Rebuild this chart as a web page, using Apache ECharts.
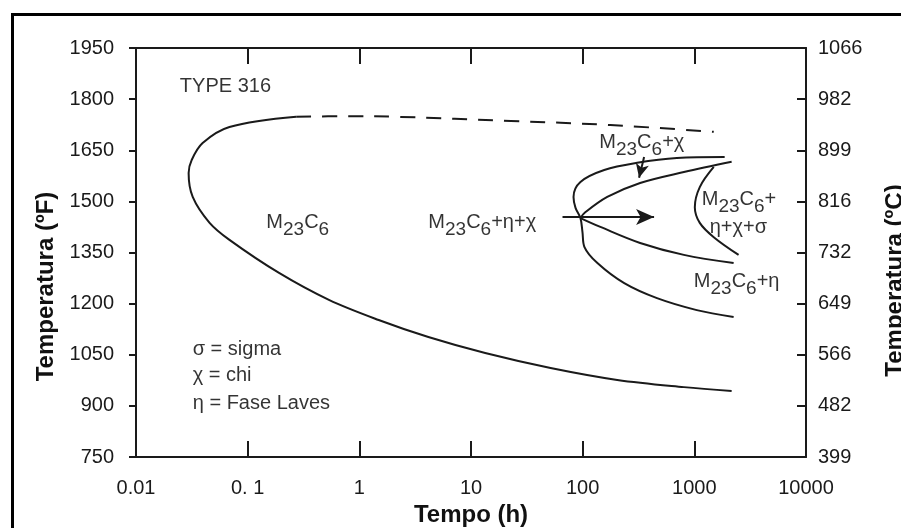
<!DOCTYPE html>
<html>
<head>
<meta charset="utf-8">
<script src="https://cdn.jsdelivr.net/npm/echarts@6/dist/echarts.min.js"></script>
<style>
  html, body { margin: 0; padding: 0; background: #fff; }
  #chart { width: 901px; height: 528px; }
</style>
</head>
<body>
<div id="chart"></div>
<script>
// tick labels
const timeTicks = ['0.01', '0. 1', '1', '10', '100', '1000', '10000'];
const celsiusTicks = ['399', '482', '566', '649', '732', '816', '899', '982', '1066'];

// curves, [tempo (h), temperatura (ºF)]
const carbideSolid = [
  [0.272, 1748], [0.0687, 1718], [0.0395, 1671], [0.0315, 1621], [0.0296, 1583],
  [0.0322, 1513], [0.0456, 1437], [0.0687, 1387], [0.191, 1290], [0.534, 1211],
  [1.49, 1152], [4.15, 1102], [13.4, 1055], [51.6, 1011], [204, 976], [806, 955], [2158, 944]
];
const carbideDashed = [
  [0.272, 1748], [0.8, 1750], [2.24, 1748], [22.7, 1736], [177, 1724], [1493, 1704]
];
const chiOuter = [
  [1869, 1630], [698, 1627], [307.6, 1613], [156, 1592], [95.5, 1557], [82.8, 1513],
  [86.3, 1481], [95.5, 1451], [99.6, 1410], [103.8, 1366], [135.5, 1319], [235.6, 1260],
  [463, 1216], [1052, 1181], [2248, 1161]
];
const chiInner = [
  [95.5, 1451], [103.8, 1466], [166, 1513], [327, 1554], [806, 1586], [2158, 1616]
];
const etaInner = [
  [95.5, 1451], [144, 1425], [327, 1378], [806, 1343], [2248, 1319]
];
const sigmaNose = [
  [1493, 1601], [1119, 1542], [1010, 1483], [1119, 1437], [1493, 1395], [2490, 1343]
];
const arrowMain = [[66, 1454], [436, 1454]];
const arrowChi = [[355, 1630], [320, 1569]];

// region labels, anchored at the left/middle of the first letter
const notes = [
  { at: [0.0247, 1836], text: 'TYPE 316' },
  { at: [0.147, 1439], text: '{n|M}{s|23}{n|C}{s|6}' },
  { at: [4.15, 1439], text: '{n|M}{s|23}{n|C}{s|6}{n|+η+χ}' },
  { at: [141, 1674], text: '{n|M}{s|23}{n|C}{s|6}{n|+χ}' },
  { at: [1166, 1507], text: '{n|M}{s|23}{n|C}{s|6}{n|+}' },
  { at: [1374, 1422], text: 'η+χ+σ' },
  { at: [990, 1266], text: '{n|M}{s|23}{n|C}{s|6}{n|+η}' },
  { at: [0.0322, 1064], text: 'σ = sigma' },
  { at: [0.0322, 988], text: 'χ = chi' },
  { at: [0.0322, 908], text: 'η = Fase Laves' }
];

const ink = '#1a1a1a';
const noteInk = '#000';
const font = "'Liberation Sans', Arial, sans-serif";

const chart = echarts.init(document.getElementById('chart'));

function curve(data, dashed) {
  return {
    type: 'line',
    data: data,
    smooth: 0.35,
    showSymbol: false,
    silent: true,
    lineStyle: { color: ink, width: 2, type: dashed ? [15, 11] : 'solid' }
  };
}

function arrow(pts, size) {
  return {
    type: 'line',
    data: [],
    silent: true,
    markLine: {
      silent: true,
      symbol: ['none', 'arrow'],
      symbolSize: size,
      label: { show: false },
      lineStyle: { color: ink, width: 2, type: 'solid' },
      data: [[{ coord: pts[0] }, { coord: pts[1] }]]
    }
  };
}

const noteSeries = notes.map(function (n) {
  return {
    type: 'scatter',
    data: [n.at],
    symbolSize: 0,
    silent: true,
    label: {
      show: true,
      position: 'right',
      distance: 0,
      color: noteInk,
      fontFamily: font,
      fontSize: 20,
      formatter: n.text,
      rich: {
        n: { fontSize: 20, color: noteInk, fontFamily: font },
        s: { fontSize: 19, color: noteInk, fontFamily: font, padding: [15, 0, 0, 0] }
      }
    }
  };
});

const option = {
  animation: false,
  backgroundColor: '#fff',
  grid: { left: 136, right: 95, top: 48, bottom: 71, outerBoundsMode: 'none', containLabel: false },
  xAxis: [
    {
      type: 'log', logBase: 10, min: 0.01, max: 10000, position: 'bottom',
      name: 'Tempo (h)', nameLocation: 'middle', nameGap: 46,
      nameTextStyle: { fontFamily: font, fontSize: 24, fontWeight: 'bold', color: '#111' },
      axisLine: { lineStyle: { color: ink, width: 2 } },
      axisTick: { inside: true, length: 16, lineStyle: { color: ink, width: 2 } },
      axisLabel: {
        margin: 21, fontFamily: font, fontSize: 20, color: ink,
        formatter: function (v) { return timeTicks[Math.round(Math.log10(v)) + 2]; }
      },
      splitLine: { show: false }, minorTick: { show: false }
    },
    {
      type: 'log', logBase: 10, min: 0.01, max: 10000, position: 'top',
      axisLine: { lineStyle: { color: ink, width: 2 } },
      axisTick: { inside: true, length: 16, lineStyle: { color: ink, width: 2 } },
      axisLabel: { show: false },
      splitLine: { show: false }
    }
  ],
  yAxis: [
    {
      type: 'value', min: 750, max: 1950, interval: 150, position: 'left',
      name: 'Temperatura (ºF)', nameLocation: 'middle', nameGap: 78, nameRotate: 90,
      nameTextStyle: { fontFamily: font, fontSize: 24, fontWeight: 'bold', color: '#111', padding: [0, 68, 0, 0] },
      axisLine: { show: true, lineStyle: { color: ink, width: 2 } },
      axisTick: { show: true, inside: false, length: 7, lineStyle: { color: ink, width: 2 } },
      axisLabel: {
        margin: 22, fontFamily: font, fontSize: 20, color: ink,
        formatter: function (v) { return String(v); }
      },
      splitLine: { show: false }
    },
    {
      type: 'value', min: 750, max: 1950, interval: 150, position: 'right',
      name: 'Temperatura (ºC)', nameLocation: 'middle', nameGap: 77, nameRotate: 90,
      nameTextStyle: { fontFamily: font, fontSize: 24, fontWeight: 'bold', color: '#111', padding: [0, 56, 0, 0] },
      axisLine: { show: true, lineStyle: { color: ink, width: 2 } },
      axisTick: { show: true, inside: true, length: 9, lineStyle: { color: ink, width: 2 } },
      axisLabel: {
        margin: 12, fontFamily: font, fontSize: 20, color: ink,
        formatter: function (v) { return celsiusTicks[Math.round((v - 750) / 150)]; }
      },
      splitLine: { show: false }
    }
  ],
  graphic: [
    {
      type: 'rect', left: 10, top: 12, silent: true,
      shape: { width: 1000, height: 1000 },
      style: { fill: 'none', stroke: '#000', lineWidth: 3 }
    }
  ],
  series: [
    curve(carbideSolid, false),
    curve(carbideDashed, true),
    curve(chiOuter, false),
    curve(chiInner, false),
    curve(etaInner, false),
    curve(sigmaNose, false),
    arrow(arrowMain, [12, 18]),
    arrow(arrowChi, [10, 14])
  ].concat(noteSeries)
};

chart.setOption(option);
</script>
</body>
</html>
